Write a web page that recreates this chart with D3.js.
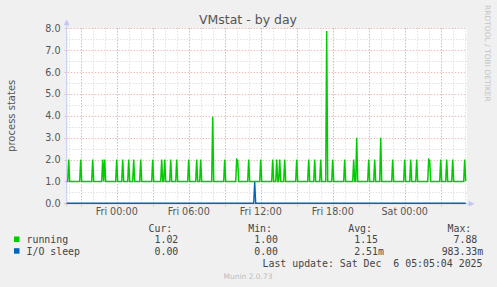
<!DOCTYPE html>
<html>
<head>
<meta charset="utf-8">
<script src="https://cdn.jsdelivr.net/npm/d3@7"></script>
<style>
  body { margin: 0; background: #f0f0f0; }
  text { font-family: "DejaVu Sans", sans-serif; }
  .mono { font-family: "DejaVu Sans Mono", monospace; font-size: 9.9px; fill: #444; }
</style>
</head>
<body>
<div id="chart"></div>
<script>
// values (5 minute samples, Thu 4 Dec -> Sat 6 Dec 2025)
let running = [
  ["2025-12-04 19:50", 1], ["2025-12-04 19:55", 1], ["2025-12-04 20:00", 2], ["2025-12-04 20:05", 1],
  ["2025-12-04 20:55", 1], ["2025-12-04 21:00", 2], ["2025-12-04 21:05", 1],
  ["2025-12-04 21:55", 1], ["2025-12-04 22:00", 2], ["2025-12-04 22:05", 1],
  ["2025-12-04 22:45", 1], ["2025-12-04 22:50", 2], ["2025-12-04 22:55", 1], ["2025-12-04 23:00", 2], ["2025-12-04 23:05", 1],
  ["2025-12-04 23:55", 1], ["2025-12-05 00:00", 2], ["2025-12-05 00:05", 1],
  ["2025-12-05 00:25", 1], ["2025-12-05 00:30", 2], ["2025-12-05 00:35", 1],
  ["2025-12-05 00:55", 1], ["2025-12-05 01:00", 2], ["2025-12-05 01:05", 1],
  ["2025-12-05 01:20", 1], ["2025-12-05 01:25", 2], ["2025-12-05 01:30", 1],
  ["2025-12-05 01:55", 1], ["2025-12-05 02:00", 2], ["2025-12-05 02:05", 1],
  ["2025-12-05 02:55", 1], ["2025-12-05 03:00", 2], ["2025-12-05 03:05", 1],
  ["2025-12-05 03:40", 1], ["2025-12-05 03:45", 2], ["2025-12-05 03:50", 1], ["2025-12-05 03:55", 1], ["2025-12-05 04:00", 2], ["2025-12-05 04:05", 1],
  ["2025-12-05 04:25", 1], ["2025-12-05 04:30", 2], ["2025-12-05 04:35", 1],
  ["2025-12-05 04:55", 1], ["2025-12-05 05:00", 2], ["2025-12-05 05:05", 1],
  ["2025-12-05 05:55", 1], ["2025-12-05 06:00", 2], ["2025-12-05 06:05", 1],
  ["2025-12-05 06:35", 1], ["2025-12-05 06:40", 2], ["2025-12-05 06:45", 1], ["2025-12-05 06:55", 1], ["2025-12-05 07:00", 2], ["2025-12-05 07:05", 1],
  ["2025-12-05 07:55", 1], ["2025-12-05 08:00", 3.96], ["2025-12-05 08:05", 1],
  ["2025-12-05 08:55", 1], ["2025-12-05 09:00", 2], ["2025-12-05 09:05", 1],
  ["2025-12-05 09:55", 1], ["2025-12-05 10:00", 2], ["2025-12-05 10:05", 1.95], ["2025-12-05 10:10", 1],
  ["2025-12-05 10:55", 1], ["2025-12-05 11:00", 2], ["2025-12-05 11:05", 1],
  ["2025-12-05 11:55", 1], ["2025-12-05 12:00", 2], ["2025-12-05 12:05", 1],
  ["2025-12-05 12:55", 1], ["2025-12-05 13:00", 2], ["2025-12-05 13:05", 1],
  ["2025-12-05 13:15", 1], ["2025-12-05 13:20", 2], ["2025-12-05 13:25", 1], ["2025-12-05 13:30", 1], ["2025-12-05 13:35", 2], ["2025-12-05 13:40", 1],
  ["2025-12-05 13:55", 1], ["2025-12-05 14:00", 2], ["2025-12-05 14:05", 1],
  ["2025-12-05 14:55", 1], ["2025-12-05 15:00", 2], ["2025-12-05 15:05", 1],
  ["2025-12-05 15:55", 1], ["2025-12-05 16:00", 2], ["2025-12-05 16:05", 1],
  ["2025-12-05 16:25", 1], ["2025-12-05 16:30", 2], ["2025-12-05 16:35", 1],
  ["2025-12-05 16:55", 1], ["2025-12-05 17:00", 2], ["2025-12-05 17:05", 1],
  ["2025-12-05 17:25", 1], ["2025-12-05 17:30", 7.88], ["2025-12-05 17:35", 1],
  ["2025-12-05 17:55", 1], ["2025-12-05 18:00", 2], ["2025-12-05 18:05", 1],
  ["2025-12-05 18:55", 1], ["2025-12-05 19:00", 2], ["2025-12-05 19:05", 1],
  ["2025-12-05 19:40", 1], ["2025-12-05 19:45", 2], ["2025-12-05 19:50", 1], ["2025-12-05 19:55", 1], ["2025-12-05 20:00", 3], ["2025-12-05 20:05", 1],
  ["2025-12-05 20:55", 1], ["2025-12-05 21:00", 2], ["2025-12-05 21:05", 1],
  ["2025-12-05 21:25", 1], ["2025-12-05 21:30", 2], ["2025-12-05 21:35", 1],
  ["2025-12-05 21:55", 1], ["2025-12-05 22:00", 3], ["2025-12-05 22:05", 1],
  ["2025-12-05 22:55", 1], ["2025-12-05 23:00", 2], ["2025-12-05 23:05", 1],
  ["2025-12-05 23:55", 1], ["2025-12-06 00:00", 2], ["2025-12-06 00:05", 1],
  ["2025-12-06 00:25", 1], ["2025-12-06 00:30", 2], ["2025-12-06 00:35", 1],
  ["2025-12-06 00:55", 1], ["2025-12-06 01:00", 2], ["2025-12-06 01:05", 1],
  ["2025-12-06 01:55", 1], ["2025-12-06 02:00", 2], ["2025-12-06 02:05", 1.95], ["2025-12-06 02:10", 1],
  ["2025-12-06 02:55", 1], ["2025-12-06 03:00", 2], ["2025-12-06 03:05", 1],
  ["2025-12-06 03:25", 1], ["2025-12-06 03:30", 2], ["2025-12-06 03:35", 1],
  ["2025-12-06 03:55", 1], ["2025-12-06 04:00", 2], ["2025-12-06 04:05", 1],
  ["2025-12-06 04:55", 1], ["2025-12-06 05:00", 2], ["2025-12-06 05:05", 1.02]
];

let ioSleep = [
  ["2025-12-04 19:50", 0], ["2025-12-05 11:25", 0], ["2025-12-05 11:30", 0.983], ["2025-12-05 11:35", 0],
  ["2025-12-06 05:05", 0]
];

let seriesNames = ["running", "I/O sleep"];
let seriesColors = ["#00cc00", "#0066b3"];
let curVals = ["1.02", "0.00"];
let minVals = ["1.00", "0.00"];
let avgVals = ["1.15", "2.51m"];
let maxVals = ["7.88", "983.33m"];
let yTicks = [0, 1, 2, 3, 4, 5, 6, 7, 8];
let timeStart = "2025-12-04 19:50";
let timeEnd = "2025-12-06 05:10";

let margin = {top: 28.3, left: 66.7};
let width = 400;
let height = 175;

const parseTime = d3.timeParse("%Y-%m-%d %H:%M");

let svg = d3.select("#chart")
    .append("svg")
    .attr("width", 497)
    .attr("height", 287);

let xScale = d3.scaleTime()
    .domain([parseTime(timeStart), parseTime(timeEnd)])
    .range([margin.left, margin.left + width]);
let yScale = d3.scaleLinear()
    .domain([0, 8])
    .range([margin.top + height, margin.top]);

// plot background
svg.append("rect")
    .attr("x", margin.left)
    .attr("y", margin.top)
    .attr("width", width)
    .attr("height", height)
    .attr("fill", "#ffffff");

// minor grid
let minorX = xScale.ticks(d3.timeHour.every(1));
svg.append("g").selectAll("line")
    .data(minorX)
    .enter().append("line")
    .attr("x1", d => Math.round(xScale(d)) + 0.5)
    .attr("x2", d => Math.round(xScale(d)) + 0.5)
    .attr("y1", margin.top)
    .attr("y2", margin.top + height)
    .attr("stroke", "#d4d4d4")
    .attr("stroke-dasharray", "1,2");

svg.append("g").selectAll("line")
    .data(yTicks.slice(0, -1))
    .enter().append("line")
    .attr("x1", margin.left)
    .attr("x2", margin.left + width)
    .attr("y1", d => Math.round(yScale(d + 0.5)) + 0.5)
    .attr("y2", d => Math.round(yScale(d + 0.5)) + 0.5)
    .attr("stroke", "#d4d4d4")
    .attr("stroke-dasharray", "1,2");

// major grid
let majorX = xScale.ticks(d3.timeHour.every(3));
svg.append("g").selectAll("line")
    .data(majorX)
    .enter().append("line")
    .attr("x1", d => Math.round(xScale(d)) + 0.5)
    .attr("x2", d => Math.round(xScale(d)) + 0.5)
    .attr("y1", margin.top)
    .attr("y2", margin.top + height + 3)
    .attr("stroke", "#eba0a0")
    .attr("stroke-dasharray", "1,2");

svg.append("g").selectAll("line")
    .data(yTicks)
    .enter().append("line")
    .attr("x1", margin.left - 2)
    .attr("x2", margin.left + width)
    .attr("y1", d => Math.round(yScale(d)) + 0.5)
    .attr("y2", d => Math.round(yScale(d)) + 0.5)
    .attr("stroke", "#eba0a0")
    .attr("stroke-dasharray", "1,2");

// axes lines + arrows
svg.append("line")
    .attr("x1", margin.left).attr("x2", margin.left)
    .attr("y1", margin.top + height + 3).attr("y2", margin.top - 6)
    .attr("stroke", "#c4c8f0");
svg.append("path")
    .attr("d", "M" + (margin.left - 3) + "," + (margin.top - 3) + " L" + margin.left + "," + (margin.top - 9) + " L" + (margin.left + 3) + "," + (margin.top - 3) + "Z")
    .attr("fill", "#c4c8f0");
svg.append("line")
    .attr("x1", margin.left - 3).attr("x2", margin.left + width + 4)
    .attr("y1", margin.top + height + 0.5).attr("y2", margin.top + height + 0.5)
    .attr("stroke", "#c4c8f0");
svg.append("path")
    .attr("d", "M" + (margin.left + width + 2) + "," + (margin.top + height - 2.5) + " L" + (margin.left + width + 8) + "," + (margin.top + height + 0.5) + " L" + (margin.left + width + 2) + "," + (margin.top + height + 3.5) + "Z")
    .attr("fill", "#c4c8f0");

// y labels
svg.append("g").selectAll("text")
    .data(yTicks)
    .enter().append("text")
    .attr("x", 60.5)
    .attr("y", d => yScale(d) + 3.5)
    .attr("text-anchor", "end")
    .attr("font-size", "9.6px")
    .attr("fill", "#555")
    .text(d => d.toFixed(1));

// x labels
let labelFormat = d3.timeFormat("%a %H:%M");
svg.append("g").selectAll("text")
    .data(xScale.ticks(d3.timeHour.every(6)))
    .enter().append("text")
    .attr("x", d => xScale(d))
    .attr("y", 215)
    .attr("text-anchor", "middle")
    .attr("font-size", "9.6px")
    .attr("fill", "#555")
    .text(d => labelFormat(d));

// series
let line = d3.line()
    .x(d => xScale(parseTime(d[0])))
    .y(d => yScale(d[1]));

svg.append("path")
    .datum(ioSleep)
    .attr("d", line)
    .attr("fill", "none")
    .attr("stroke", seriesColors[1])
    .attr("stroke-width", 1.4);

svg.append("path")
    .datum(running)
    .attr("d", line)
    .attr("fill", "none")
    .attr("stroke", seriesColors[0])
    .attr("stroke-width", 1.5);

// titles
svg.append("text")
    .attr("x", 248)
    .attr("y", 23.5)
    .attr("text-anchor", "middle")
    .attr("font-size", "12.5px")
    .attr("fill", "#555")
    .text("VMstat - by day");

svg.append("text")
    .attr("transform", "translate(15," + (margin.top + height / 2) + ") rotate(-90)")
    .attr("text-anchor", "middle")
    .attr("font-size", "10px")
    .attr("fill", "#555")
    .text("process states");

svg.append("text")
    .attr("transform", "translate(485,5) rotate(90)")
    .attr("font-size", "7.5px")
    .attr("fill", "#c4c4c4")
    .text("RRDTOOL / TOBI OETIKER");

// legend
let colEnds = [178.3, 278, 378, 477.3];
let headers = ["Cur:", "Min:", "Avg:", "Max:"];
svg.append("g").selectAll("text")
    .data(headers)
    .enter().append("text")
    .attr("class", "mono")
    .attr("x", (d, i) => colEnds[i] - 6)
    .attr("y", 231.5)
    .attr("text-anchor", "end")
    .text(d => d);

let cols = [curVals, minVals, avgVals, maxVals];
seriesNames.forEach((name, r) => {
    let y = 243 + r * 11.7;
    svg.append("rect")
        .attr("x", 14).attr("y", y - 6.5)
        .attr("width", 5.5).attr("height", 5.5)
        .attr("fill", seriesColors[r]);
    svg.append("text")
        .attr("class", "mono")
        .attr("x", 26.5).attr("y", y)
        .text(name);
    cols.forEach((vals, c) => {
        let v = vals[r];
        let unit = v.endsWith("m") ? "m" : "";
        let num = unit ? v.slice(0, -1) : v;
        svg.append("text")
            .attr("class", "mono")
            .attr("x", colEnds[c]).attr("y", y)
            .attr("text-anchor", "end")
            .text(num);
        if (unit) {
            svg.append("text")
                .attr("class", "mono")
                .attr("x", colEnds[c]).attr("y", y)
                .text(unit);
        }
    });
});

svg.append("text")
    .attr("class", "mono")
    .attr("x", 482.5)
    .attr("y", 266.5)
    .attr("text-anchor", "end")
    .attr("xml:space", "preserve")
    .style("white-space", "pre")
    .text("Last update: Sat Dec  6 05:05:04 2025");

svg.append("text")
    .attr("x", 248)
    .attr("y", 279)
    .attr("text-anchor", "middle")
    .attr("font-size", "7.5px")
    .attr("fill", "#bdbdbd")
    .text("Munin 2.0.73");
</script>
</body>
</html>
